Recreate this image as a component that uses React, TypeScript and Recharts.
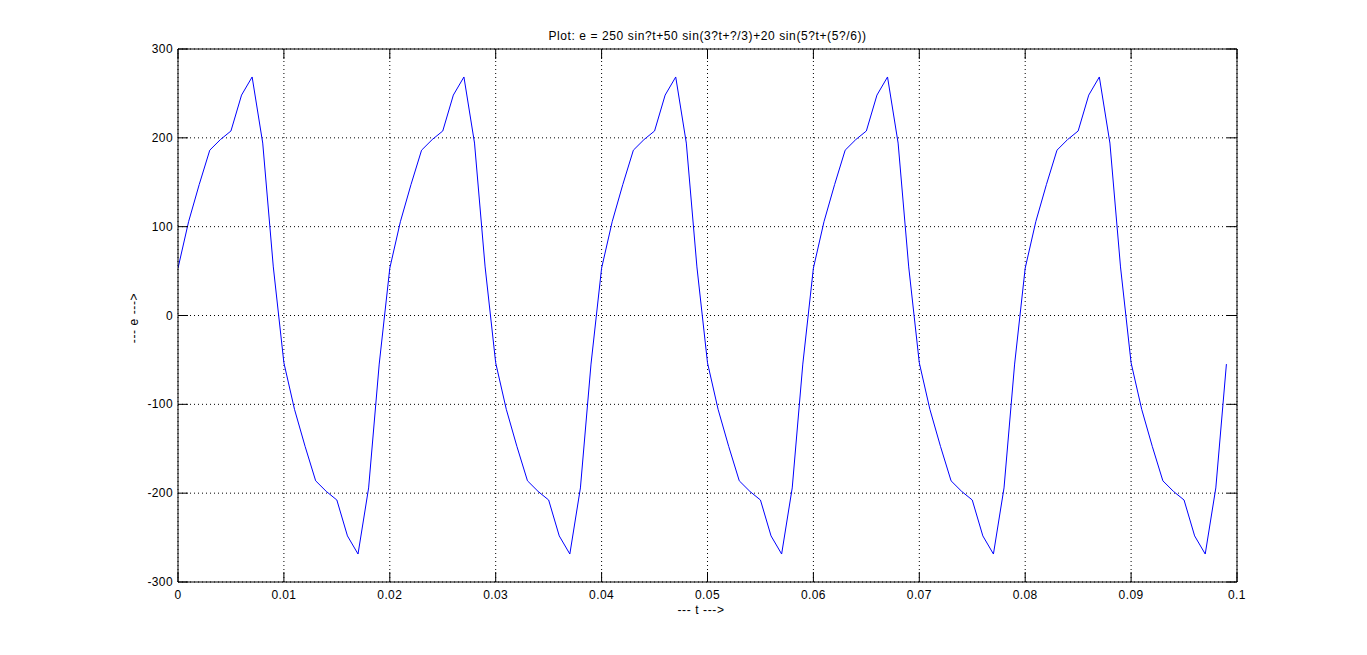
import React from "react";
import { LineChart, Line, XAxis, YAxis, CartesianGrid } from "recharts";

// sample times (s)
const timeValues = [
  0, 0.001, 0.002, 0.003, 0.004, 0.005, 0.006, 0.007, 0.008, 0.009,
  0.01, 0.011, 0.012, 0.013, 0.014, 0.015, 0.016, 0.017, 0.018, 0.019,
  0.02, 0.021, 0.022, 0.023, 0.024, 0.025, 0.026, 0.027, 0.028, 0.029,
  0.03, 0.031, 0.032, 0.033, 0.034, 0.035, 0.036, 0.037, 0.038, 0.039,
  0.04, 0.041, 0.042, 0.043, 0.044, 0.045, 0.046, 0.047, 0.048, 0.049,
  0.05, 0.051, 0.052, 0.053, 0.054, 0.055, 0.056, 0.057, 0.058, 0.059,
  0.06, 0.061, 0.062, 0.063, 0.064, 0.065, 0.066, 0.067, 0.068, 0.069,
  0.07, 0.071, 0.072, 0.073, 0.074, 0.075, 0.076, 0.077, 0.078, 0.079,
  0.08, 0.081, 0.082, 0.083, 0.084, 0.085, 0.086, 0.087, 0.088, 0.089,
  0.09, 0.091, 0.092, 0.093, 0.094, 0.095, 0.096, 0.097, 0.098, 0.099,
];

// e values
const eValues = [
  53.3, 105.6, 147.3, 186.1, 198.0, 207.7, 248.1, 268.5, 194.1, 54.7,
  -53.3, -105.6, -147.3, -186.1, -198.0, -207.7, -248.1, -268.5, -194.1, -54.7,
  53.3, 105.6, 147.3, 186.1, 198.0, 207.7, 248.1, 268.5, 194.1, 54.7,
  -53.3, -105.6, -147.3, -186.1, -198.0, -207.7, -248.1, -268.5, -194.1, -54.7,
  53.3, 105.6, 147.3, 186.1, 198.0, 207.7, 248.1, 268.5, 194.1, 54.7,
  -53.3, -105.6, -147.3, -186.1, -198.0, -207.7, -248.1, -268.5, -194.1, -54.7,
  53.3, 105.6, 147.3, 186.1, 198.0, 207.7, 248.1, 268.5, 194.1, 54.7,
  -53.3, -105.6, -147.3, -186.1, -198.0, -207.7, -248.1, -268.5, -194.1, -54.7,
  53.3, 105.6, 147.3, 186.1, 198.0, 207.7, 248.1, 268.5, 194.1, 54.7,
  -53.3, -105.6, -147.3, -186.1, -198.0, -207.7, -248.1, -268.5, -194.1, -54.7,
];

const xTicks = [0, 0.01, 0.02, 0.03, 0.04, 0.05, 0.06, 0.07, 0.08, 0.09, 0.1];
const yTicks = [-300, -200, -100, 0, 100, 200, 300];

const data = timeValues.map((t, i) => ({ t, e: eValues[i] }));

const FONT = '"Liberation Sans", Arial, sans-serif';
const TICK = 10;

const LeftTick = (p: any) => (
  <g>
    <line x1={p.x} y1={p.y} x2={p.x + TICK} y2={p.y} stroke="#000" />
    <text x={p.x - 5} y={p.y + 4} textAnchor="end" fontSize={12} letterSpacing={0.4} fontFamily={FONT} fill="#000">
      {p.payload.value}
    </text>
  </g>
);
const RightTick = (p: any) => (
  <line x1={p.x} y1={p.y} x2={p.x - TICK} y2={p.y} stroke="#000" />
);
const BottomTick = (p: any) => (
  <g>
    <line x1={p.x} y1={p.y} x2={p.x} y2={p.y - TICK} stroke="#000" />
    <text x={p.x} y={p.y + 17} textAnchor="middle" fontSize={12} letterSpacing={0.4} fontFamily={FONT} fill="#000">
      {String(p.payload.value)}
    </text>
  </g>
);
const TopTick = (p: any) => (
  <line x1={p.x} y1={p.y} x2={p.x} y2={p.y + TICK} stroke="#000" />
);

export default function App() {
  return (
    <div style={{ position: "relative", width: 1351, height: 639, fontFamily: FONT, fontSize: 12, letterSpacing: 0.6, color: "#000" }}>
      <LineChart width={1351} height={639} data={data}
        margin={{ top: 31, right: 112, bottom: 35, left: 110 }}>
        <CartesianGrid stroke="#000" strokeDasharray="1 3" />
        <XAxis dataKey="t" type="number" domain={[0, 0.1]} ticks={xTicks}
          allowDataOverflow height={30} tickSize={0} tickMargin={0}
          tickLine={false} axisLine={{ stroke: "#000" }} tick={BottomTick} interval={0} />
        <XAxis xAxisId="top" orientation="top" dataKey="t" type="number" domain={[0, 0.1]}
          ticks={xTicks} allowDataOverflow height={10} tickSize={0} tickMargin={0}
          tickLine={false} axisLine={{ stroke: "#000" }} tick={TopTick} interval={0} />
        <YAxis type="number" domain={[-300, 300]} ticks={yTicks} allowDataOverflow
          width={60} tickSize={0} tickMargin={0} tickLine={false}
          axisLine={{ stroke: "#000" }} tick={LeftTick} interval={0} />
        <YAxis yAxisId="right" orientation="right" type="number" domain={[-300, 300]}
          ticks={yTicks} allowDataOverflow width={10} tickSize={0} tickMargin={0}
          tickLine={false} axisLine={{ stroke: "#000" }} tick={RightTick} interval={0} />
        <Line type="linear" dataKey="e" stroke="#0000ff" strokeWidth={1}
          dot={false} activeDot={false} isAnimationActive={false} />
      </LineChart>
      <div style={{ position: "absolute", left: 170, width: 1059, top: 21, textAlign: "center", whiteSpace: "nowrap" }}>
        Plot: e = 250 sin?t+50 sin(3?t+?/3)+20 sin(5?t+(5?/6))
      </div>
      <div style={{ position: "absolute", left: 593, width: 200, top: 595, textAlign: "center", whiteSpace: "nowrap" }}>
        --- t ---&gt;
      </div>
      <div style={{ position: "absolute", left: 126, top: 310, width: 0, height: 0 }}>
        <div style={{ position: "absolute", left: -50, top: -7, width: 100, textAlign: "center", transform: "rotate(-90deg)", whiteSpace: "nowrap" }}>
          --- e ---&gt;
        </div>
      </div>
    </div>
  );
}
